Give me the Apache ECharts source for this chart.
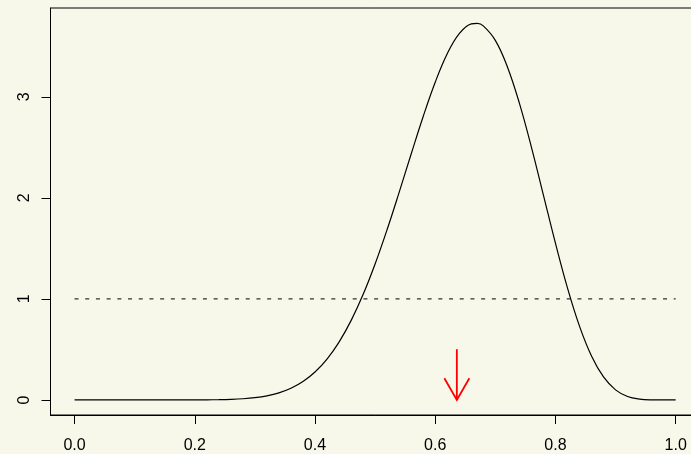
<!DOCTYPE html>
<html>
<head>
<meta charset="utf-8">
<script src="https://cdn.jsdelivr.net/npm/echarts@6/dist/echarts.min.js"></script>
<style>
html,body{margin:0;padding:0;background:#F7F7EA;overflow:hidden;}
#chart{width:700px;height:454px;}
</style>
</head>
<body>
<div id="chart"></div>
<script>
// Density curve
const xs = [0,0.02,0.04,0.06,0.08,0.10,0.12,0.14,0.16,0.18,0.20,0.22,0.24,0.26,0.28,0.30,0.32,0.34,0.36,0.38,0.40,0.42,0.44,0.46,0.48,0.50,0.52,0.54,0.56,0.58,0.60,0.62,0.64,0.66,0.67,0.68,0.70,0.72,0.74,0.76,0.78,0.80,0.82,0.84,0.86,0.88,0.90,0.92,0.94,0.96,0.98,1.00];
const density = [0,0,0,0,0,0,0,0.00001,0.00004,0.00012,0.00038,0.00102,0.00248,0.00552,0.01141,0.02205,0.04019,0.06958,0.1149,0.1816,0.2761,0.4045,0.5727,0.7850,1.0431,1.3456,1.6862,2.0544,2.4343,2.8059,3.1447,3.4264,3.6258,3.7225,3.7275,3.7021,3.5589,3.2985,2.9378,2.5028,2.0281,1.5512,1.1087,0.7303,0.4347,0.2272,0.0996,0.0340,0.00783,0.00088,0.00001,0];
// Dashed reference line
const refX = [0, 1];
const refY = [1, 1];
// Red arrow
const arrowShaftX = [0.636, 0.636];
const arrowShaftY = [0.502, 0];
const arrowHeadX = [0.6152, 0.636, 0.6568];
const arrowHeadY = [0.214, 0, 0.214];
// Ticks
const xTicks = [0, 0.2, 0.4, 0.6, 0.8, 1.0];
const yTicks = [0, 1, 2, 3];

const pairs = (a, b) => a.map((v, i) => [v, b[i]]);
const font = 'Liberation Sans, Arial, Helvetica, sans-serif';

const chart = echarts.init(document.getElementById('chart'), null, {renderer: 'canvas'});
chart.setOption({
  animation: false,
  backgroundColor: '#F7F7EA',
  grid: {
    left: 50.5, top: 8, right: 0.3, bottom: 37.5,
    show: true, borderColor: '#000', borderWidth: 1, backgroundColor: 'transparent'
  },
  xAxis: {
    type: 'value', min: -0.04, max: 1.04,
    splitLine: {show: false},
    axisLine: {show: true, onZero: false, lineStyle: {color: '#000', width: 1}},
    axisTick: {show: true, length: 9, customValues: xTicks, lineStyle: {color: '#000'}},
    axisLabel: {
      customValues: xTicks, margin: 23, color: '#000', fontSize: 16, fontFamily: font,
      formatter: v => Number(v).toFixed(1)
    }
  },
  yAxis: {
    type: 'value', min: -0.1492, max: 3.8792,
    splitLine: {show: false},
    axisLine: {show: true, onZero: false, lineStyle: {color: '#000', width: 1}},
    axisTick: {show: true, length: 9, customValues: yTicks, lineStyle: {color: '#000'}},
    axisLabel: {
      customValues: yTicks, rotate: 90, margin: 18, color: '#000', fontSize: 16, fontFamily: font,
      formatter: v => String(Math.round(v))
    }
  },
  series: [
    {
      type: 'line', data: pairs(xs, density), smooth: 0.4, showSymbol: false,
      lineStyle: {color: '#000', width: 1.2}, z: 3
    },
    {
      type: 'line', data: pairs(refX, refY), showSymbol: false,
      lineStyle: {color: '#000', width: 1, type: [4, 6.7]}, z: 2
    },
    {
      type: 'line', data: pairs(arrowShaftX, arrowShaftY), showSymbol: false,
      lineStyle: {color: '#FF0000', width: 1.8}, z: 4
    },
    {
      type: 'line', data: pairs(arrowHeadX, arrowHeadY), showSymbol: false,
      lineStyle: {color: '#FF0000', width: 1.8, join: 'miter'}, z: 4
    }
  ]
});
</script>
</body>
</html>
